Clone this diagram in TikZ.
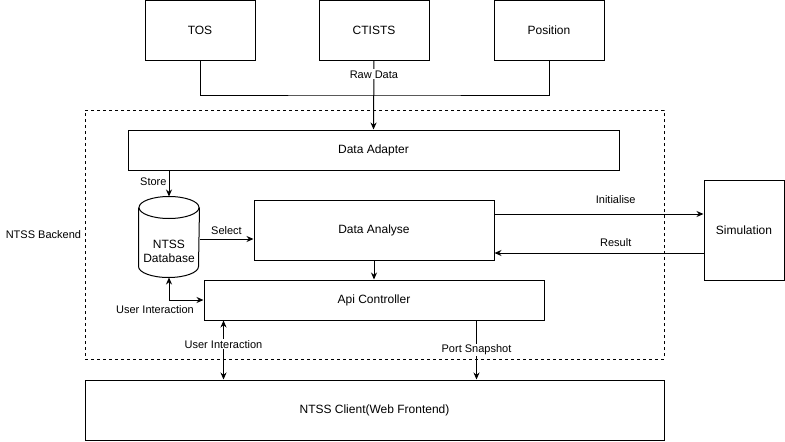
\documentclass[tikz,border=0pt]{standalone}
\usepackage{fontspec}
\setmainfont{Liberation Sans}
\usetikzlibrary{arrows.meta, positioning}

\begin{document}
\begin{tikzpicture}[
    x=1pt, y=-1pt,
    line width=1pt,
    block/.style={
        draw,
        rectangle,
        inner sep=0pt,
        font=\fontsize{12}{14}\selectfont,
    },
    flow/.style={
        -{Stealth[length=7pt, width=6pt]},
    },
    both/.style={
        {Stealth[length=7pt, width=6pt]}-{Stealth[length=7pt, width=6pt]},
    },
    tag/.style={
        font=\fontsize{11}{13}\selectfont,
        inner sep=1pt,
    }
]
    \useasboundingbox (0,0) rectangle (785,442);

    % Backend container
    \node[draw, dash pattern=on 3pt off 3pt, minimum width=579pt, minimum height=249pt,
          label={[tag, inner sep=3pt]left:NTSS Backend}] (backend) at (374.5,234.5) {};

    % Sources
    \node[block, minimum width=110pt, minimum height=60pt] (tos) at (200,30) {TOS};
    \node[block, minimum width=110pt, minimum height=60pt] (ctists) at (374,30) {CTISTS};
    \node[block, minimum width=110pt, minimum height=60pt] (position) at (549,30) {Position};

    % Backend parts
    \node[block, minimum width=491pt, minimum height=40pt] (adapter) at (373.5,150) {Data Adapter};
    \node[inner sep=0pt, minimum width=60pt, minimum height=80pt,
          label={[align=center, font=\fontsize{12}{14}\selectfont, yshift=-14pt]center:NTSS\\Database}] (db) at (169,237) {};
    \draw ([yshift=-11pt]db.north west) -- ([yshift=11pt]db.south west)
        arc[start angle=180, end angle=360, x radius=30pt, y radius=11pt]
        -- ([yshift=-11pt]db.north east);
    \draw ([yshift=-11pt]db.north) ellipse [x radius=30pt, y radius=11pt];
    \node[block, minimum width=240pt, minimum height=60pt] (analyse) at (374,230) {Data Analyse};
    \node[block, minimum width=340pt, minimum height=40pt] (api) at (374,300) {Api Controller};

    % External parts
    \node[block, minimum width=80pt, minimum height=100pt] (sim) at (744,230) {Simulation};
    \node[block, minimum width=579pt, minimum height=60pt] (client) at (374.5,410) {NTSS Client(Web Frontend)};

    % Raw data
    \coordinate (merge) at (374,95);
    \draw (tos.south) |- (merge) -| (position.south);
    \draw[flow] (ctists.south) -- (adapter.north) node[tag, pos=0.2, fill=white] {Raw Data};

    % Inside backend
    \draw[flow] (adapter.south -| db.north) -- (db.north) node[tag, pos=0.45, left=1pt] {Store};
    \draw[flow] ([yshift=-2pt]db.east) -- ([yshift=-2pt]db.east -| analyse.west) node[tag, midway, above=3pt] {Select};
    \draw[flow] (analyse.south) -- (api.north);
    \draw[both] (db.south) |- (api.west);
    \node[tag, below=4pt, xshift=-14pt] at (db.south |- api.west) {User Interaction};

    % Simulation
    \draw[flow] ([yshift=16pt]analyse.east) -- ([yshift=16pt]analyse.east -| sim.west)
        node[tag, pos=0.58, above=9pt] {Initialise};
    \draw[flow] ([yshift=-23pt]sim.west) -- ([yshift=-23pt]sim.west -| analyse.east)
        node[tag, pos=0.42, above=5pt] {Result};

    % Frontend
    \draw[both] ([xshift=20pt]api.south west) -- ([xshift=20pt]api.south west |- client.north)
        node[tag, pos=0.4, fill=white] {User Interaction};
    \draw[flow] ([xshift=-68pt]api.south east) -- ([xshift=-68pt]api.south east |- client.north)
        node[tag, pos=0.5, fill=white] {Port Snapshot};
\end{tikzpicture}
\end{document}
